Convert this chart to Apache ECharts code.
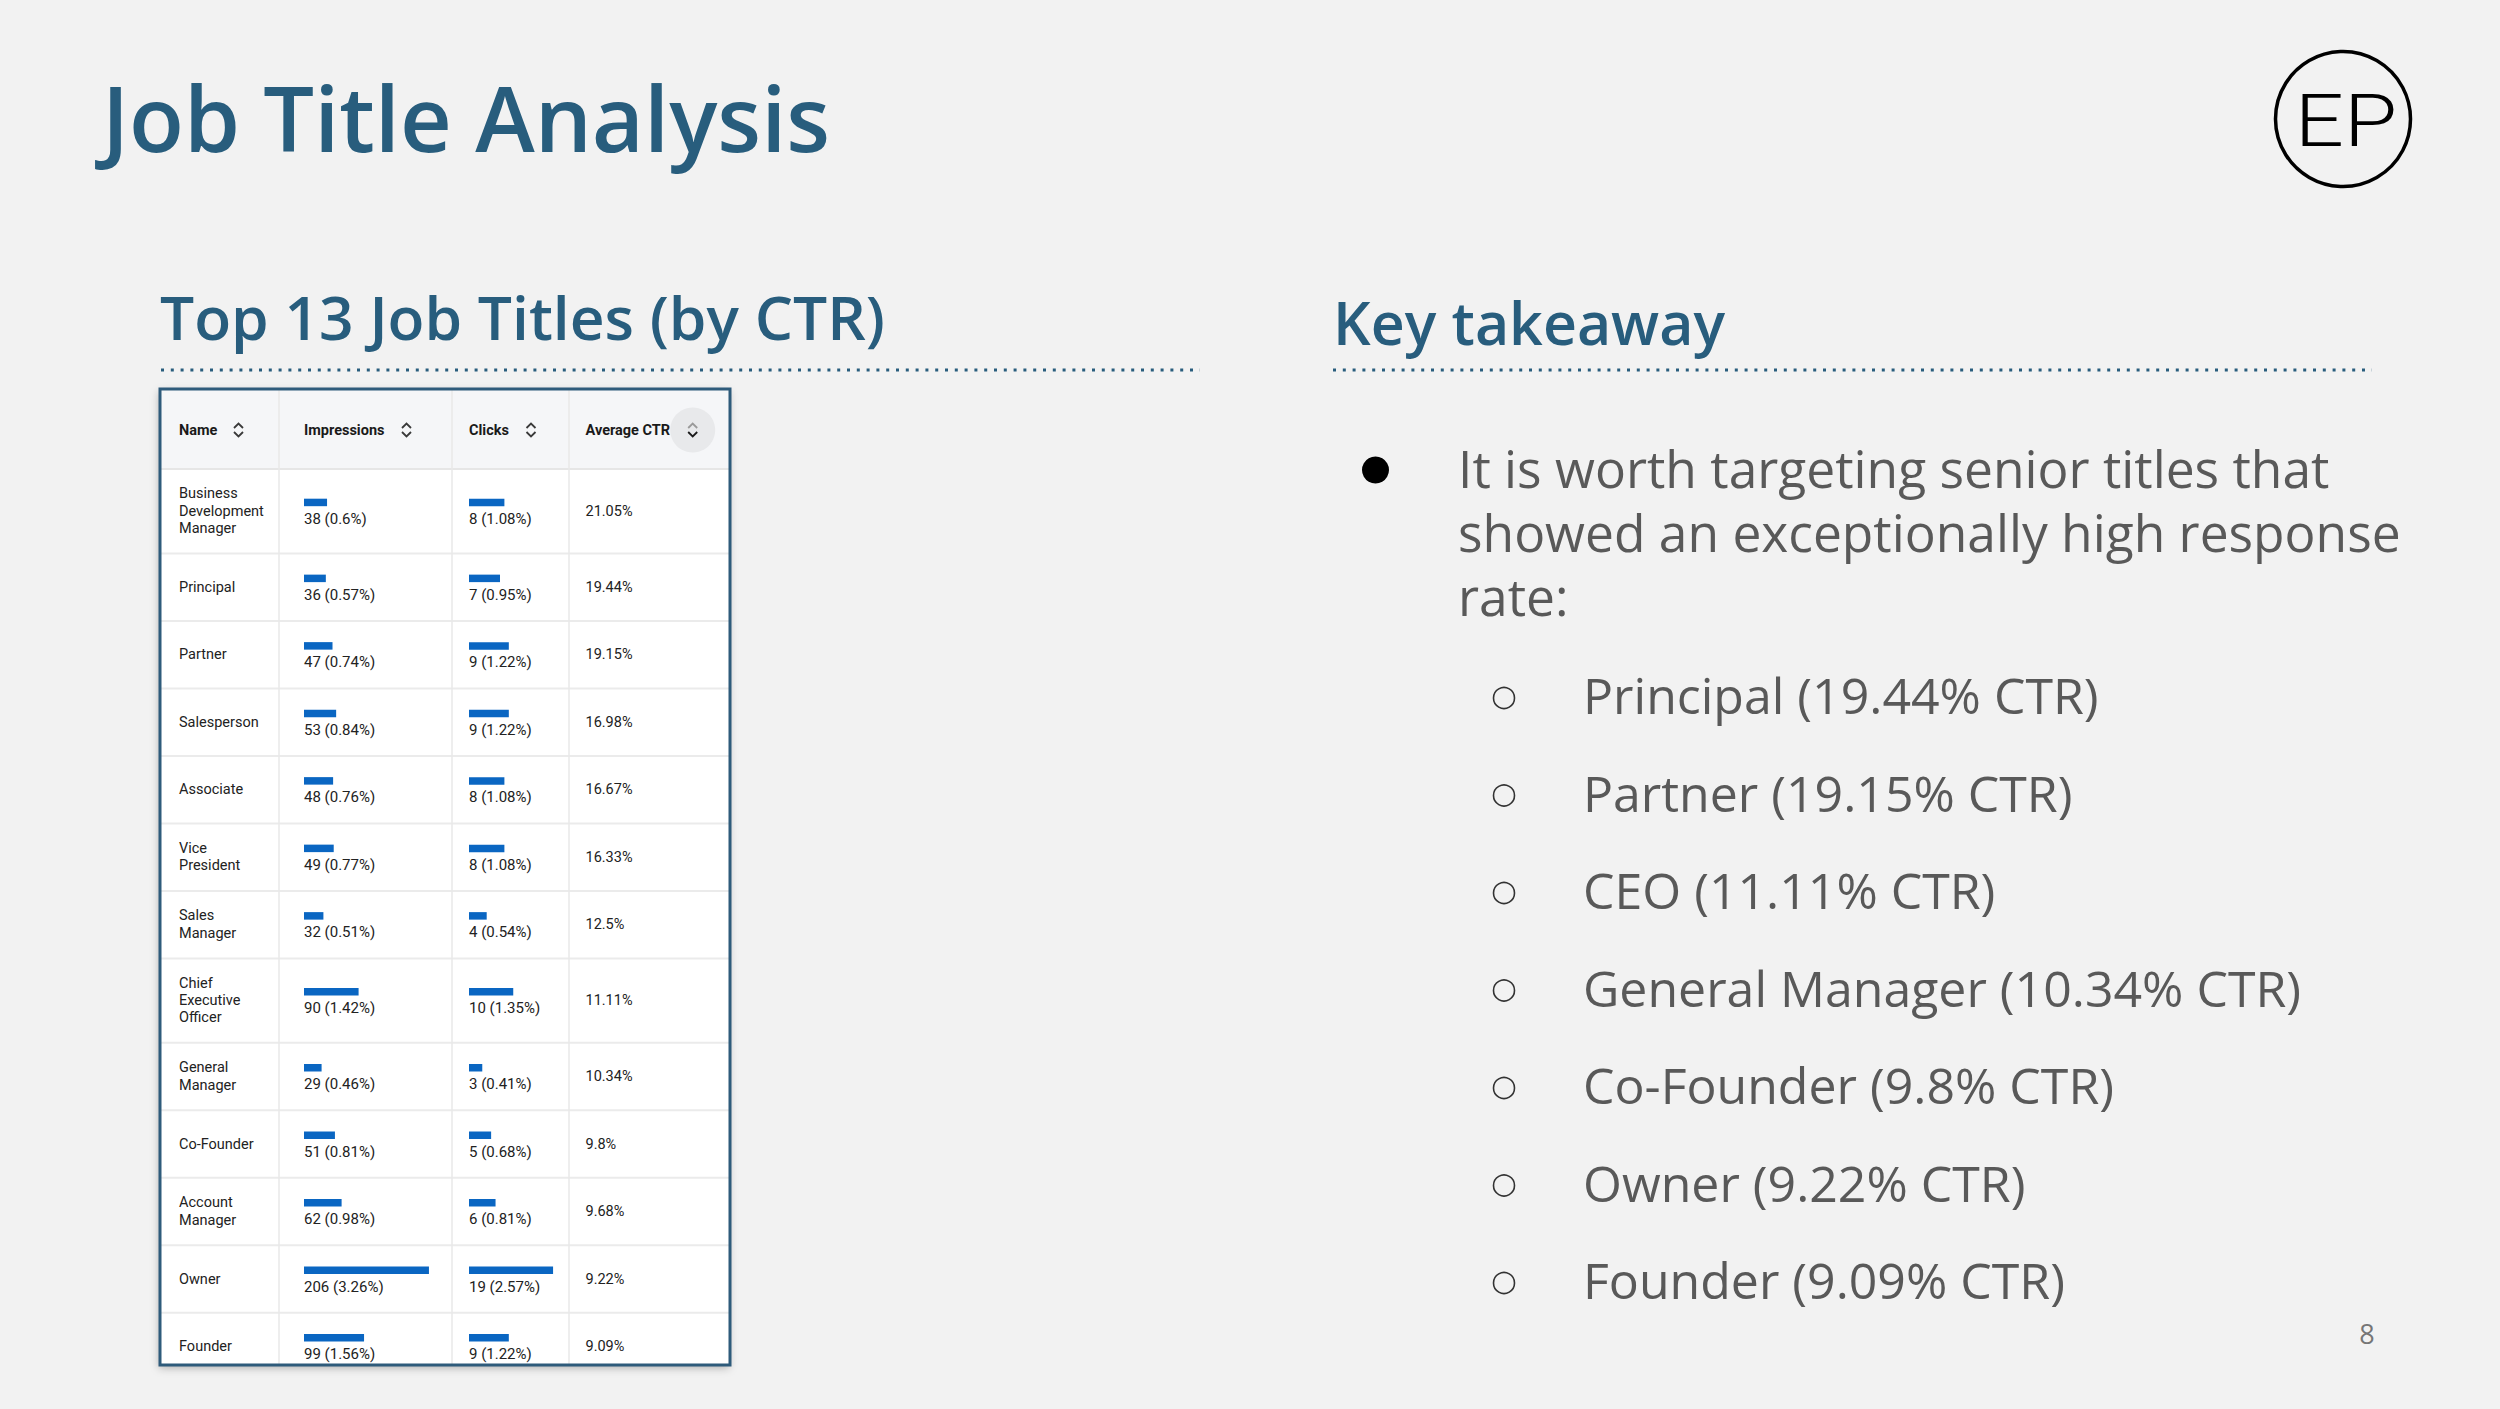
<!DOCTYPE html>
<html>
<head>
<meta charset="utf-8">
<script src="https://cdn.jsdelivr.net/npm/echarts/dist/echarts.min.js"></script>
<style>
html,body{margin:0;padding:0;background:#f2f2f2;}
#c{width:2500px;height:1409px;}
</style>
</head>
<body>
<div id="c"></div>
<script>
// ---------- data ----------
const names = ['Business\nDevelopment\nManager','Principal','Partner','Salesperson','Associate','Vice\nPresident','Sales\nManager','Chief\nExecutive\nOfficer','General\nManager','Co-Founder','Account\nManager','Owner','Founder'];
const impressions = [38,36,47,53,48,49,32,90,29,51,62,206,99];
const impressionPct = [0.6,0.57,0.74,0.84,0.76,0.77,0.51,1.42,0.46,0.81,0.98,3.26,1.56];
const clicks = [8,7,9,9,8,8,4,10,3,5,6,19,9];
const clickPct = [1.08,0.95,1.22,1.22,1.08,1.08,0.54,1.35,0.41,0.68,0.81,2.57,1.22];
const avgCtr = [21.05,19.44,19.15,16.98,16.67,16.33,12.5,11.11,10.34,9.8,9.68,9.22,9.09];
const columnHeaders = ['Name','Impressions','Clicks','Average CTR'];
const slideTitle = 'Job Title Analysis';
const tableTitle = 'Top 13 Job Titles (by CTR)';
const takeawayTitle = 'Key takeaway';
const takeawayIntro = 'It is worth targeting senior titles that\nshowed an exceptionally high response\nrate:';
const takeaways = ['Principal (19.44% CTR)','Partner (19.15% CTR)','CEO (11.11% CTR)','General Manager (10.34% CTR)','Co-Founder (9.8% CTR)','Owner (9.22% CTR)','Founder (9.09% CTR)'];
const pageNumber = '8';

// ---------- layout ----------
const TBL = {left:160, top:389, width:570, height:976};
const UNIT = 67.5;
const HEADER_U = 80 / UNIT;
const TOTAL_U = TBL.height / UNIT;
const rowUnits = names.map(n => n.split('\n').length > 2 ? 1.25 : 1);
const rowStart = [];
rowUnits.reduce((acc, u, i) => { rowStart[i] = acc; return acc + u; }, HEADER_U);
const colLines = [119, 292, 409];          // column borders, relative to table left
const colText = [19, 144, 309, 425.5];     // text start per column, relative to table left
const FONT_T = 'Roboto, "Liberation Sans", sans-serif';
const FONT_S = '"Open Sans", sans-serif';
const TITLE_C = '#285d7d';
const BODY_C = '#595959';
const BAR_C = '#0a66c2';

function renderRow(params, api) {
  const i = api.value(0);
  const pTop = api.coord([0, rowStart[i]]);
  const pBot = api.coord([TBL.width, rowStart[i] + rowUnits[i]]);
  const yc = (pTop[1] + pBot[1]) / 2;
  const children = [
    {type:'line', shape:{x1:pTop[0], y1:pBot[1], x2:pBot[0], y2:pBot[1]}, style:{stroke:'#ebebeb', lineWidth:2}},
    {type:'text', style:{text:names[i], x:api.coord([colText[0], 0])[0], y:yc, fill:'#222', fontSize:14.5, fontFamily:FONT_T, lineHeight:17.3, align:'left', verticalAlign:'middle'}},
    {type:'text', style:{text:avgCtr[i] + '%', x:api.coord([colText[3], 0])[0], y:yc, fill:'#222', fontSize:14.5, fontFamily:FONT_T, align:'left', verticalAlign:'middle'}}
  ];
  if (i === 0) {
    children.push({type:'line', shape:{x1:pTop[0], y1:pTop[1], x2:pBot[0], y2:pTop[1]}, style:{stroke:'#e6e6e6', lineWidth:2}});
  }
  return {type:'group', children};
}

function makeBarRenderer(pcts) {
  return function (params, api) {
    const v = api.value(0);
    const i = api.value(1);
    const yv = rowStart[i] + rowUnits[i] / 2;
    const p0 = api.coord([0, yv]);
    const p1 = api.coord([v, yv]);
    return {type:'group', children:[
      {type:'rect', shape:{x:p0[0], y:p0[1] - 12.5, width:p1[0] - p0[0], height:7.5}, style:{fill:BAR_C}},
      {type:'text', style:{text:v + ' (' + pcts[i] + '%)', x:p0[0], y:p0[1] + 7.5, fill:'#222', fontSize:15, fontFamily:FONT_T, align:'left', verticalAlign:'middle'}}
    ]};
  };
}

function chevrons(cx, cy, upColor, downColor) {
  return [
    {type:'polyline', z:6, shape:{points:[[cx-4.5, cy-2],[cx, cy-6.5],[cx+4.5, cy-2]]}, style:{stroke:upColor, lineWidth:1.8, fill:'none'}},
    {type:'polyline', z:6, shape:{points:[[cx-4.5, cy+2],[cx, cy+6.5],[cx+4.5, cy+2]]}, style:{stroke:downColor, lineWidth:1.8, fill:'none'}}
  ];
}

const hdrY = TBL.top + 41;
const graphics = [
  // slide titles
  {type:'text', z:10, style:{text:slideTitle, x:102, y:117, fontSize:90, fontWeight:600, fontFamily:FONT_S, fill:TITLE_C, verticalAlign:'middle'}},
  {type:'text', z:10, style:{text:tableTitle, x:160, y:316, fontSize:60.5, fontWeight:600, fontFamily:FONT_S, fill:TITLE_C, verticalAlign:'middle'}},
  {type:'text', z:10, style:{text:takeawayTitle, x:1333, y:322, fontSize:59, fontWeight:600, fontFamily:FONT_S, fill:TITLE_C, verticalAlign:'middle'}},
  {type:'line', z:10, shape:{x1:161, y1:370, x2:1200, y2:370}, style:{stroke:TITLE_C, lineWidth:3, lineDash:[3,6.8]}},
  {type:'line', z:10, shape:{x1:1333, y1:370, x2:2372, y2:370}, style:{stroke:TITLE_C, lineWidth:3, lineDash:[3,6.8]}},
  // logo
  {type:'circle', z:10, shape:{cx:2343, cy:119, r:67.5}, style:{stroke:'#000', lineWidth:3.5, fill:'none'}},
  {type:'text', z:10, x:2346, y:121, scaleX:1.2, style:{text:'EP', x:0, y:0, fontSize:72, fontWeight:300, fontFamily:'Roboto, sans-serif', fill:'#000', align:'center', verticalAlign:'middle'}},
  // page number
  {type:'text', z:10, style:{text:pageNumber, x:2367, y:1333, fontSize:27, fontFamily:FONT_S, fill:'#767676', align:'center', verticalAlign:'middle'}},
  // key takeaway
  {type:'circle', z:10, shape:{cx:1375.5, cy:470, r:13.5}, style:{fill:'#000'}},
  {type:'text', z:10, style:{text:takeawayIntro, x:1458, y:436, fontSize:51.5, lineHeight:64, fontFamily:FONT_S, fill:BODY_C, align:'left', verticalAlign:'top'}},
  // table header
  {type:'rect', z:1, shape:{x:TBL.left, y:TBL.top, width:TBL.width, height:80}, style:{fill:'#f5f6f8'}},
  {type:'circle', z:5, shape:{cx:TBL.left + 532.7, cy:hdrY, r:22.5}, style:{fill:'#e8e9eb'}},
  {type:'rect', z:100, shape:{x:TBL.left, y:TBL.top, width:TBL.width, height:TBL.height}, style:{fill:'none', stroke:'#2e5b7b', lineWidth:3}}
];
takeaways.forEach((t, k) => {
  const y = 698 + k * 97.5;
  graphics.push({type:'circle', z:10, shape:{cx:1504, cy:y, r:10.5}, style:{fill:'none', stroke:'#333', lineWidth:1.6}});
  graphics.push({type:'text', z:10, style:{text:t, x:1583, y:y - 3, fontSize:50, fontFamily:FONT_S, fill:BODY_C, align:'left', verticalAlign:'middle'}});
});
colLines.forEach(x => {
  graphics.push({type:'line', z:3, shape:{x1:TBL.left + x, y1:TBL.top, x2:TBL.left + x, y2:TBL.top + TBL.height}, style:{stroke:'#e8e8e8', lineWidth:1.5}});
});
const iconX = [78.5, 246.5, 371, 532.7];
columnHeaders.forEach((h, k) => {
  graphics.push({type:'text', z:6, style:{text:h, x:TBL.left + colText[k], y:hdrY, fontSize:14.5, fontWeight:'bold', fontFamily:FONT_T, fill:'#1a1a1a', align:'left', verticalAlign:'middle'}});
  const last = k === columnHeaders.length - 1;
  chevrons(TBL.left + iconX[k], hdrY, last ? '#9a9a9a' : '#3a3a3a', last ? '#1a1a1a' : '#3a3a3a').forEach(g => graphics.push(g));
});

const hiddenValue = (min, max, idx, extra) => Object.assign({type:'value', min, max, gridIndex:idx, show:false, splitLine:{show:false}}, extra || {});

const option = {
  backgroundColor:'#f2f2f2',
  animation:false,
  grid:[
    {left:TBL.left, top:TBL.top, width:TBL.width, height:TBL.height, show:true, backgroundColor:'#ffffff', borderWidth:0, shadowBlur:8, shadowColor:'rgba(0,0,0,0.28)', shadowOffsetX:-1, shadowOffsetY:3},
    {left:TBL.left + colText[1], top:TBL.top, width:colLines[1] - colText[1], height:TBL.height},
    {left:TBL.left + colText[2], top:TBL.top, width:colLines[2] - colText[2], height:TBL.height}
  ],
  xAxis:[
    hiddenValue(0, TBL.width, 0),
    hiddenValue(0, 244, 1),
    hiddenValue(0, 22.6, 2)
  ],
  yAxis:[
    hiddenValue(0, TOTAL_U, 0, {inverse:true}),
    hiddenValue(0, TOTAL_U, 1, {inverse:true}),
    hiddenValue(0, TOTAL_U, 2, {inverse:true})
  ],
  series:[
    {name:'Rows', type:'custom', xAxisIndex:0, yAxisIndex:0, clip:true, renderItem:renderRow,
     data:names.map((n, i) => [i])},
    {name:'Impressions', type:'custom', xAxisIndex:1, yAxisIndex:1, clip:false, renderItem:makeBarRenderer(impressionPct),
     encode:{x:0, y:1}, data:impressions.map((v, i) => [v, i])},
    {name:'Clicks', type:'custom', xAxisIndex:2, yAxisIndex:2, clip:false, renderItem:makeBarRenderer(clickPct),
     encode:{x:0, y:1}, data:clicks.map((v, i) => [v, i])}
  ],
  graphic:{elements:graphics}
};

const chart = echarts.init(document.getElementById('c'), null, {renderer:'svg', width:2500, height:1409});
chart.setOption(option);
</script>
</body>
</html>
